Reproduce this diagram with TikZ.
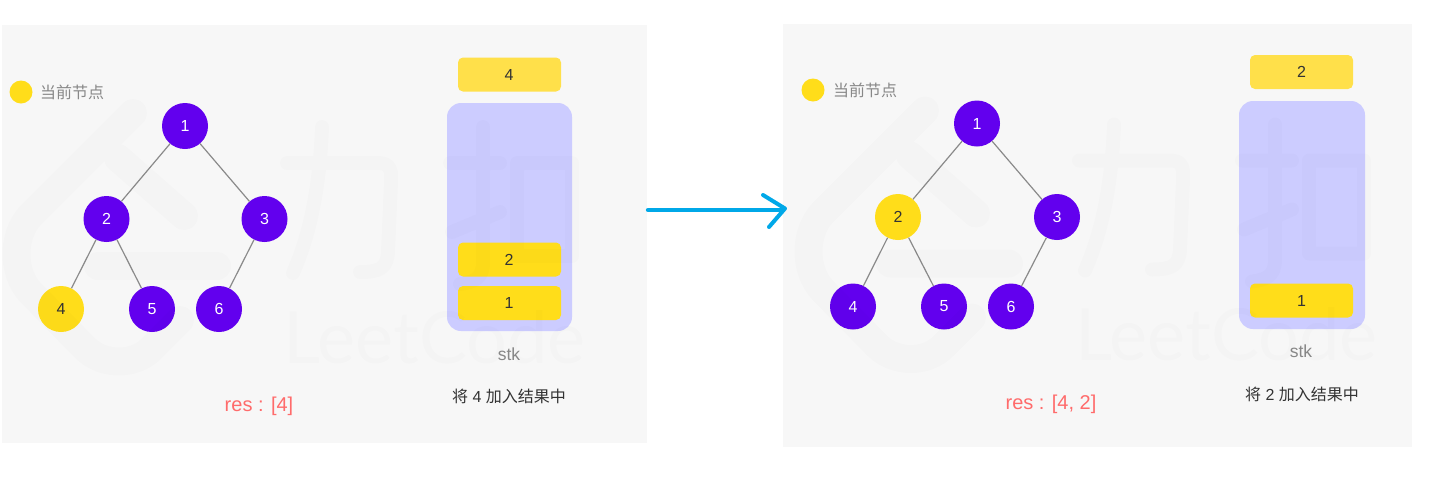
\documentclass[tikz,border=0pt]{standalone}
\usepackage{fontspec}
\setmainfont{Liberation Sans}
\newfontfamily\cjk{Noto Sans CJK SC}
\newfontfamily\wmfont{Lato}
\usetikzlibrary{calc}
\definecolor{panelbg}{HTML}{F7F7F7}
\definecolor{nodepurple}{HTML}{6200EE}
\definecolor{curyellow}{HTML}{FFDD1A}
\definecolor{popyellow}{HTML}{FFE04A}
\definecolor{stacklav}{HTML}{CCCCFF}
\definecolor{edgegray}{HTML}{8A8A8A}
\definecolor{labelgray}{HTML}{888888}
\definecolor{textdark}{HTML}{333333}
\definecolor{resred}{HTML}{FF6B6B}
\definecolor{arrowblue}{HTML}{00A8E8}
\tikzset{
  x=1pt,y=-1pt,
  panel/.style={fill=panelbg,draw=none},
  treenode/.style={circle,minimum size=46pt,inner sep=0pt,font=\fontsize{16}{16}\selectfont},
  normalnode/.style={treenode,fill=nodepurple,text=white},
  curnode/.style={treenode,fill=curyellow,text=textdark},
  legenddot/.style={circle,minimum size=23pt,inner sep=0pt,fill=curyellow},
  legendtext/.style={anchor=west,inner sep=0pt,text=labelgray,font=\cjk\fontsize{16}{16}\selectfont},
  edge/.style={draw=edgegray,line width=1.2pt},
  stackbody/.style={rectangle,rounded corners=14pt,fill=stacklav,inner sep=0pt,minimum width=125pt,minimum height=228pt},
  stackitem/.style={rectangle,rounded corners=5pt,fill=curyellow,text=textdark,inner sep=0pt,minimum width=103pt,minimum height=34pt,font=\fontsize{16}{16}\selectfont},
  poppeditem/.style={stackitem,fill=popyellow},
  stklabel/.style={text=labelgray,inner sep=0pt,font=\fontsize{17.5}{17.5}\selectfont},
  caption/.style={text=textdark,inner sep=0pt,font=\fontsize{16}{16}\selectfont},
  reslabel/.style={text=resred,inner sep=0pt,font=\fontsize{20}{20}\selectfont},
  wmthick/.style={line width=28pt,line cap=round,line join=round,draw=black},
  wmthin/.style={line width=14pt,line cap=round,line join=round,draw=black},
}
\newcommand{\wmark}[2]{%
\begin{scope}[shift={(#1,#2)},transparency group,opacity=.011]
  \draw[wmthick] (133,113) -- (30,216) .. controls (12,236) and (12,272) .. (30,292)
     -- (85,348) .. controls (103,366) and (135,366) .. (152,348) -- (180,320);
  \draw[wmthick] (118,158) -- (184,216);
  \draw[wmthick] (98,266) -- (217,266);
  \draw[wmthin] (287,163) -- (378,163) .. controls (390,163) and (392,170) .. (391,182)
     -- (388,252) .. controls (387,268) and (380,272) .. (360,272);
  \draw[wmthin] (322,127) .. controls (320,180) and (312,230) .. (293,273);
  \draw[wmthin] (450,163) -- (500,163);
  \draw[wmthin] (483,127) -- (483,262) .. controls (483,278) and (475,282) .. (460,284);
  \draw[wmthin] (452,232) -- (500,212);
  \draw[wmthin] (517,163) -- (572,163) -- (572,256) -- (517,256) -- cycle;
  \node[anchor=base west,inner sep=0pt,text=black,font=\wmfont\fontsize{72}{72}\selectfont] (#1wm) at (283,363) {LeetCode};
\end{scope}}
\begin{document}
\begin{tikzpicture}
\useasboundingbox[fill=white] (0,0) rectangle (1434,491);
% panels
\fill[panel] (2,25) rectangle (647,443);
\fill[panel] (783,24) rectangle (1412,447);

% left legend
\node[legenddot] (ldot) at (21,92) {};
\node[legendtext] (ltxt) at (40,92) {当前节点};
% left tree
\node[normalnode] (a1) at (185,126) {1};
\node[normalnode] (a2) at (106.5,219) {2};
\node[normalnode] (a3) at (264.5,219) {3};
\node[curnode] (a4) at (61,309) {4};
\node[normalnode] (a5) at (152,309) {5};
\node[normalnode] (a6) at (219,309) {6};
\draw[edge] (a1) -- (a2);
\draw[edge] (a1) -- (a3);
\draw[edge] (a2) -- (a4);
\draw[edge] (a2) -- (a5);
\draw[edge] (a3) -- (a6);
% left stack
\node[poppeditem] (apop) at (509.5,74.5) {\makebox[0pt]{\hspace{-1pt}4}};
\node[stackbody] (astk) at (509.5,217) {};
\node[stackitem] (as2) at (509.5,259.5) {\makebox[0pt]{\hspace{-1pt}2}};
\node[stackitem] (as1) at (509.5,303) {\makebox[0pt]{\hspace{-1pt}1}};
\node[stklabel] (astkl) at (509,354) {stk};
\node[caption] (acap) at (509,396) {{\cjk 将} 4 {\cjk 加入结果中}};
\node[reslabel] (ares) at (259,406) {res : [4]};

% arrow
\coordinate (arrS) at (648,210);
\coordinate (arrE) at (783,210);
\coordinate (arrT) at (785,208.5);
\coordinate (arrU) at (763,195);
\coordinate (arrD) at (769,227);
\draw[arrowblue,line width=4.4pt,line cap=round,line join=round] (arrS) -- (arrE);
\draw[arrowblue,line width=4pt,line cap=round,line join=round] (arrU) -- (arrT) -- (arrD);

% right legend
\node[legenddot] (rdot) at (813,90) {};
\node[legendtext] (rtxt) at (833,90) {当前节点};
% right tree
\node[normalnode] (b1) at (977,123.5) {1};
\node[curnode] (b2) at (898,217) {2};
\node[normalnode] (b3) at (1057,217) {3};
\node[normalnode] (b4) at (853,306.5) {4};
\node[normalnode] (b5) at (944,306.5) {5};
\node[normalnode] (b6) at (1011,306.5) {6};
\draw[edge] (b1) -- (b2);
\draw[edge] (b1) -- (b3);
\draw[edge] (b2) -- (b4);
\draw[edge] (b2) -- (b5);
\draw[edge] (b3) -- (b6);
% right stack
\node[poppeditem] (bpop) at (1301.5,72) {2};
\node[stackbody,minimum width=126pt] (bstk) at (1302,215) {};
\node[stackitem] (bs1) at (1301.5,300.5) {1};
\node[stklabel] (bstkl) at (1301,351.5) {stk};
\node[caption] (bcap) at (1302,394) {{\cjk 将} 2 {\cjk 加入结果中}};
\node[reslabel] (bres) at (1051,404) {res : [4, 2]};

% watermarks
\wmark{0}{0}
\wmark{792}{-2.5}
\end{tikzpicture}
\end{document}
